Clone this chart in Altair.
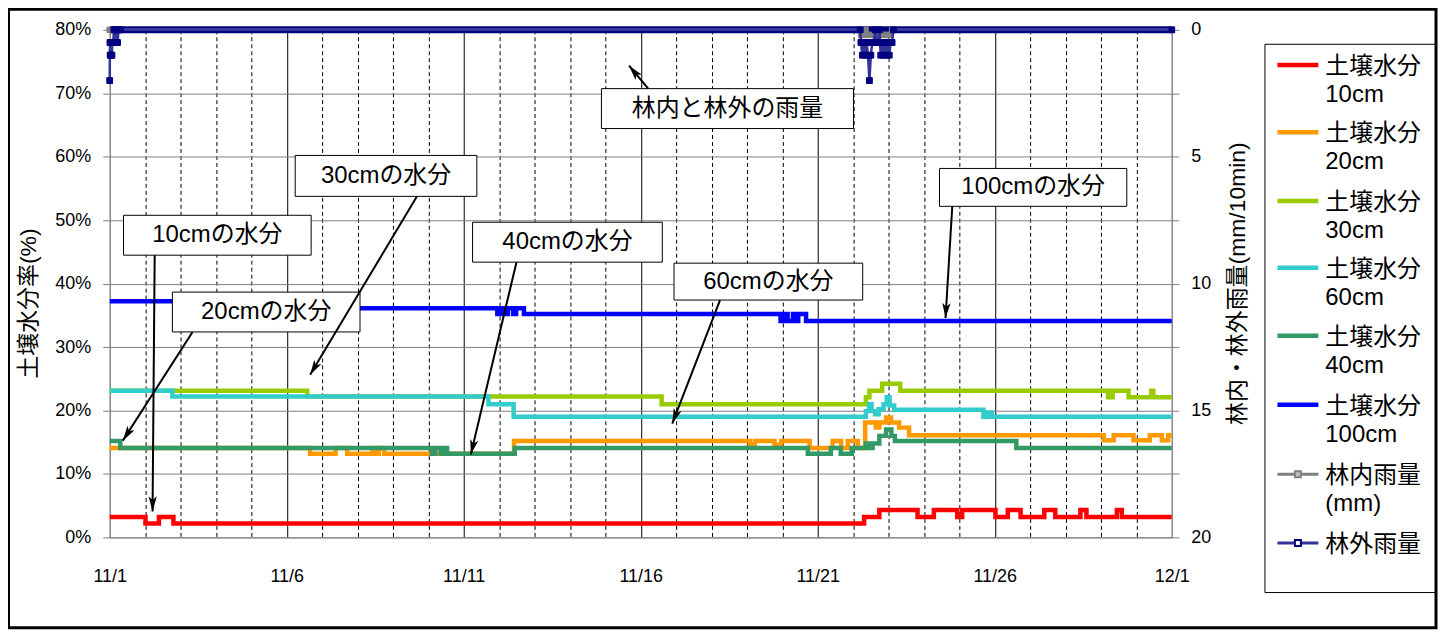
import math
import altair as alt
import pandas as pd

# ---------------- data ----------------
# days since 11/1 00:00, soil moisture in %
s10_day = [0, 1.01, 1.39, 1.80, 21.31, 21.74, 22.82, 23.28, 23.94, 24.08, 25.02, 25.37, 25.73, 26.40, 26.71, 27.42, 27.59, 28.45, 28.59, 30]
s10_val = [3.2, 2.2, 3.2, 2.2, 3.2, 4.3, 3.2, 4.3, 3.2, 4.3, 3.2, 4.3, 3.2, 4.3, 3.2, 4.3, 3.2, 4.3, 3.2, 3.2]

s20_day = [0, 5.66, 6.38, 6.71, 7.42, 7.52, 7.60, 7.75, 11.42, 18.08, 18.22, 18.78, 18.97, 19.77, 20.42, 20.66, 20.85, 21.13, 21.34,
           21.64, 21.74, 21.93, 22.07, 22.30, 22.58, 28.08, 28.36, 28.92, 29.38, 29.72, 29.90, 30]
s20_val = [14.1, 13.2, 14.1, 13.2, 14.1, 13.2, 14.1, 13.2, 15.2, 14.6, 15.2, 14.6, 15.2, 14.1, 15.2, 14.1, 15.2, 14.1, 18.1,
           17.3, 18.1, 18.9, 18.1, 17.3, 16.1, 15.3, 16.1, 15.3, 16.1, 15.3, 16.1, 16.1]

s30_day = [0, 5.58, 15.59, 21.36, 21.46, 21.82, 22.33, 28.20, 28.33, 28.78, 29.42, 29.48, 30]
s30_val = [23.1, 22.2, 21.0, 22.1, 23.1, 24.2, 23.1, 22.1, 23.1, 22.1, 23.1, 22.1, 22.1]

s60_day = [0, 1.77, 10.70, 11.41, 21.36, 21.45, 21.52, 21.62, 21.72, 21.86, 21.95, 22.03, 22.16, 24.68, 24.80, 24.92, 30]
s60_val = [23.1, 22.2, 21.0, 19.0, 19.9, 21.0, 19.9, 19.4, 20.2, 21.0, 22.1, 20.8, 20.1, 19.0, 19.7, 19.0, 19.0]

s40_day = [0, 0.30, 9.10, 9.20, 9.35, 9.45, 9.53, 11.44, 19.72, 20.37, 20.65, 20.96, 21.36, 21.45, 21.55, 21.74, 21.93, 22.08, 22.18, 25.61, 30]
s40_val = [15.2, 14.1, 13.2, 14.1, 13.2, 14.1, 13.2, 14.1, 13.2, 14.1, 13.2, 14.1, 14.8, 14.1, 14.8, 16.0, 17.0, 16.0, 15.2, 14.1, 14.1]

s100_day = [0, 4.0, 10.95, 11.05, 11.15, 11.25, 11.40, 11.48, 11.70, 18.95, 19.05, 19.15, 19.30, 19.40, 19.45, 19.67, 30]
s100_val = [37.2, 36.1, 35.2, 36.1, 35.2, 36.1, 35.2, 36.1, 35.2, 34.1, 35.2, 34.1, 35.2, 34.1, 35.2, 34.1, 34.1]

# rain (mm / 10 min)
rain_out_day = [0.0, 0.007, 0.014, 0.021, 0.028, 0.035, 0.042, 0.049, 0.056, 0.063, 0.07, 0.10, 0.12, 0.15, 0.17, 0.20, 0.22, 0.25, 0.30,
                21.20, 21.22, 21.26, 21.30, 21.34, 21.38, 21.42, 21.46, 21.50, 21.54, 21.58, 21.62, 21.66, 21.70, 21.74,
                21.78, 21.82, 21.86, 21.90, 21.94, 21.98, 22.02, 22.06, 22.10, 22.14, 30.0]
rain_out_mm = [2.0, 0.5, 1.0, 0.5, 1.0, 0.5, 1.0, 0.5, 0.5, 1.0, 0.5, 0.5, 0.0, 0.5, 0.0, 0.5, 0.5, 0.0, 0.0,
               0.0, 0.5, 1.0, 0.5, 1.0, 0.5, 1.0, 2.0, 1.0, 0.5, 0.5, 0.0, 0.5, 0.5, 0.0,
               1.0, 0.5, 1.0, 0.5, 1.0, 0.5, 1.0, 0.5, 0.5, 0.0, 0.0]
rain_in_day = [0.0, 21.20, 21.23, 21.30, 21.35, 21.40, 21.50, 21.60, 21.70, 21.75, 21.85, 21.95, 22.05, 22.10, 30.0]
rain_in_mm = [0.0, 0.0, 0.2, 0.2, 0.0, 0.2, 0.2, 0.2, 0.0, 0.2, 0.2, 0.2, 0.2, 0.0, 0.0]
rain_base_day = [0, 30]
rain_base_mm = [0, 0]

x_ticks = list(range(0, 31))
pct_ticks = list(range(0, 81, 10))
rain_ticks = [0, 2.5, 5, 7.5, 10, 12.5, 15, 17.5, 20]

# annotations (label, box in day / %, arrow tail and head in day / %)
ann_label = ["林内と林外の雨量", "100cmの水分", "30cmの水分", "10cmの水分", "40cmの水分", "60cmの水分", "20cmの水分"]
ann_x1 = [13.89, 23.44, 5.24, 0.39, 10.25, 15.94, 1.77]
ann_x2 = [21.01, 28.73, 10.37, 5.69, 15.61, 21.27, 7.07]
ann_y1 = [70.73, 58.15, 60.20, 50.77, 49.67, 43.22, 38.66]
ann_y2 = [64.44, 52.18, 53.75, 44.48, 43.38, 37.41, 32.38]
arr_td = [15.21, 23.80, 8.68, 1.27, 11.49, 17.24, 2.34]
arr_tp = [70.73, 52.18, 53.75, 44.48, 43.38, 37.41, 32.38]
arr_hd = [14.67, 23.61, 5.66, 1.21, 10.20, 15.89, 0.37]
arr_hp = [74.34, 34.58, 25.62, 4.09, 13.05, 17.92, 15.25]

legend_l1 = ["土壌水分", "土壌水分", "土壌水分", "土壌水分", "土壌水分", "土壌水分", "林内雨量", "林外雨量"]
legend_l2 = ["10cm", "20cm", "30cm", "60cm", "40cm", "100cm", "(mm)", ""]

# ---------------- layout / style ----------------
W, H = 1065, 509
PX_DAY = W / 30.0
PX_PCT = H / 80.0
LAT = "Liberation Sans"
FONT = "Liberation Sans, Noto Sans CJK JP"
GRAY = "#808080"
NAVY = "#000080"

xscale = alt.Scale(domain=[0, 30], nice=False, zero=False)
yscale = alt.Scale(domain=[0, 80], nice=False)
rscale = alt.Scale(domain=[0, 20], nice=False, reverse=True)

x_axis = alt.Axis(
    values=x_ticks,
    labelExpr="datum.value % 5 == 0 ? (datum.value == 30 ? '12/1' : '11/' + (datum.value + 1)) : ''",
    grid=True,
    gridColor={"condition": {"test": "datum.value == 0 || datum.value == 30", "value": GRAY}, "value": "black"},
    gridDash={"condition": {"test": "datum.value % 5 == 0", "value": []}, "value": [4, 3]},
    gridWidth=1,
    ticks=False, tickSize=0,
    domainColor=GRAY, domainWidth=1,
    labelFont=LAT, labelFontSize=18, labelColor="black", labelPadding=30,
    labelOverlap=False, labelFlush=False,
    title=None,
)
y_axis = alt.Axis(
    values=pct_ticks, labelExpr="datum.value + '%'",
    grid=True, gridColor=GRAY, gridWidth=1,
    tickSize=7, tickColor=GRAY, domainColor=GRAY,
    labelFont=LAT, labelFontSize=18, labelColor="black", labelPadding=12,
    title="土壌水分率(%)", titleFont=FONT, titleFontSize=23, titleFontWeight="normal",
    titleColor="black", titleAngle=270, titleX=-81, titleY=274, titleAlign="center", titleBaseline="middle",
)
r_axis = alt.Axis(
    orient="right", values=rain_ticks,
    labelExpr="datum.value % 5 == 0 ? datum.value : ''",
    grid=False, tickSize=7, tickColor=GRAY, domainColor=GRAY,
    labelFont=LAT, labelFontSize=18, labelColor="black", labelPadding=12,
    title="林内・林外雨量(mm/10min)", titleFont=FONT, titleFontSize=23, titleFontWeight="normal",
    titleColor="black", titleAngle=270, titleX=66, titleY=254, titleAlign="center", titleBaseline="middle",
)


def X(field):
    return alt.X(field, type="quantitative", scale=xscale, axis=x_axis)


def Y(field):
    return alt.Y(field, type="quantitative", scale=yscale, axis=y_axis)


def R(field):
    return alt.Y(field, type="quantitative", scale=rscale, axis=r_axis)


soil = [
    ("#ff0000", s10_day, s10_val),
    ("#ff9900", s20_day, s20_val),
    ("#99cc00", s30_day, s30_val),
    ("#33cccc", s60_day, s60_val),
    ("#339966", s40_day, s40_val),
    ("#0000ff", s100_day, s100_val),
]

left_layers = []
for col, d, v in soil:
    df = pd.DataFrame({"day": d, "v": v})
    left_layers.append(
        alt.Chart(df).mark_line(interpolate="step-after", color=col, strokeWidth=4.5).encode(
            x=X("day"), y=Y("v"))
    )

# annotations
angles = []
for td, tp, hd, hp in zip(arr_td, arr_tp, arr_hd, arr_hp):
    dx = (hd - td) * PX_DAY
    dy = -(hp - tp) * PX_PCT
    angles.append(math.degrees(math.atan2(dx, -dy)) % 360)
ann = pd.DataFrame({
    "label": ann_label, "x1": ann_x1, "x2": ann_x2, "y1": ann_y1, "y2": ann_y2,
    "cx": [(a + b) / 2 for a, b in zip(ann_x1, ann_x2)],
    "cy": [(a + b) / 2 for a, b in zip(ann_y1, ann_y2)],
    "td": arr_td, "tp": arr_tp, "hd": arr_hd, "hp": arr_hp, "ang": angles,
})
left_layers += [
    alt.Chart(ann).mark_rect(fill="white", stroke="black", strokeWidth=1).encode(
        x=X("x1"), x2="x2", y=Y("y1"), y2="y2"),
    alt.Chart(ann).mark_text(font=FONT, fontSize=24, color="black", align="center", baseline="middle").encode(
        x=X("cx"), y=Y("cy"), text="label:N"),
    alt.Chart(ann).mark_rule(color="black", strokeWidth=2).encode(
        x=X("td"), x2="hd", y=Y("tp"), y2="hp"),
    alt.Chart(ann).mark_point(shape="M0,0L0.55,2L0,1.5L-0.55,2Z", size=230, filled=True, color="black",
                              opacity=1).encode(
        x=X("hd"), y=Y("hp"), angle=alt.Angle("ang:Q", scale=None)),
]

rain_base = pd.DataFrame({"day": rain_base_day, "mm": rain_base_mm})
rain_in = pd.DataFrame({"day": rain_in_day, "mm": rain_in_mm})
rain_out = pd.DataFrame({"day": rain_out_day, "mm": rain_out_mm})

rain_layers = [
    alt.Chart(rain_base).mark_line(color=NAVY, strokeWidth=7).encode(x=X("day"), y=R("mm")),
    alt.Chart(rain_in).mark_line(color=GRAY, strokeWidth=2.5).encode(x=X("day"), y=R("mm")),
    alt.Chart(rain_in).mark_point(shape="square", size=30, filled=True, fill=GRAY, stroke=GRAY,
                                  strokeWidth=1, opacity=1).encode(x=X("day"), y=R("mm")),
    alt.Chart(rain_out).mark_line(color="#333399", strokeWidth=2.5).encode(x=X("day"), y=R("mm")),
    alt.Chart(rain_out).mark_point(shape="square", size=34, filled=True, fill=NAVY, stroke=NAVY,
                                   strokeWidth=1, opacity=1).encode(x=X("day"), y=R("mm")),
]

# decorations: legend and outer frame
one = pd.DataFrame({"k": [0]})
deco = []
deco.append(alt.Chart(one).mark_rect(fill="white", stroke="black", strokeWidth=1).encode(
    x=alt.value(1158.5), x2=alt.value(1330), y=alt.value(14.5), y2=alt.value(564.3)))
leg_colors = ["#ff0000", "#ff9900", "#99cc00", "#33cccc", "#339966", "#0000ff", GRAY, "#333399"]
leg_y = [35.3, 102.8, 171.7, 238.5, 306.7, 376.0, 445.6, 514.6]
for i in range(8):
    yy = leg_y[i]
    deco.append(alt.Chart(one).mark_rule(color=leg_colors[i], strokeWidth=4.5 if i < 6 else 3).encode(
        x=alt.value(1171), x2=alt.value(1212), y=alt.value(yy)))
    if i == 6:
        deco.append(alt.Chart(one).mark_point(shape="square", size=36, filled=True, fill="#c0c0c0",
                                              stroke=GRAY, opacity=1).encode(
            x=alt.value(1191.5), y=alt.value(yy)))
    if i == 7:
        deco.append(alt.Chart(one).mark_point(shape="square", size=36, filled=True, fill="white",
                                              stroke=NAVY, opacity=1).encode(
            x=alt.value(1191.5), y=alt.value(yy)))
    deco.append(alt.Chart(one).mark_text(font=FONT, fontSize=24, color="black", align="left",
                                         baseline="middle").encode(
        x=alt.value(1219), y=alt.value(yy + 2), text=alt.value(legend_l1[i])))
    if legend_l2[i]:
        deco.append(alt.Chart(one).mark_text(font=FONT, fontSize=24, color="black", align="left",
                                             baseline="middle").encode(
            x=alt.value(1219), y=alt.value(yy + 30), text=alt.value(legend_l2[i])))
deco.append(alt.Chart(one).mark_rect(fillOpacity=0, stroke="black", strokeWidth=3).encode(
    x=alt.value(-101.5), x2=alt.value(1330), y=alt.value(-20.5), y2=alt.value(599.5)))

chart = alt.layer(
    alt.layer(*left_layers),
    alt.layer(*rain_layers),
    alt.layer(*deco),
).resolve_scale(y="independent").properties(
    width=W, height=H,
    padding={"left": 102, "top": 21, "right": 267, "bottom": 93},
    autosize=alt.AutoSizeParams(type="none"),
    background="white",
).configure_view(stroke=None)

chart.save("out.html", embed_options={"renderer": "svg", "actions": False})
